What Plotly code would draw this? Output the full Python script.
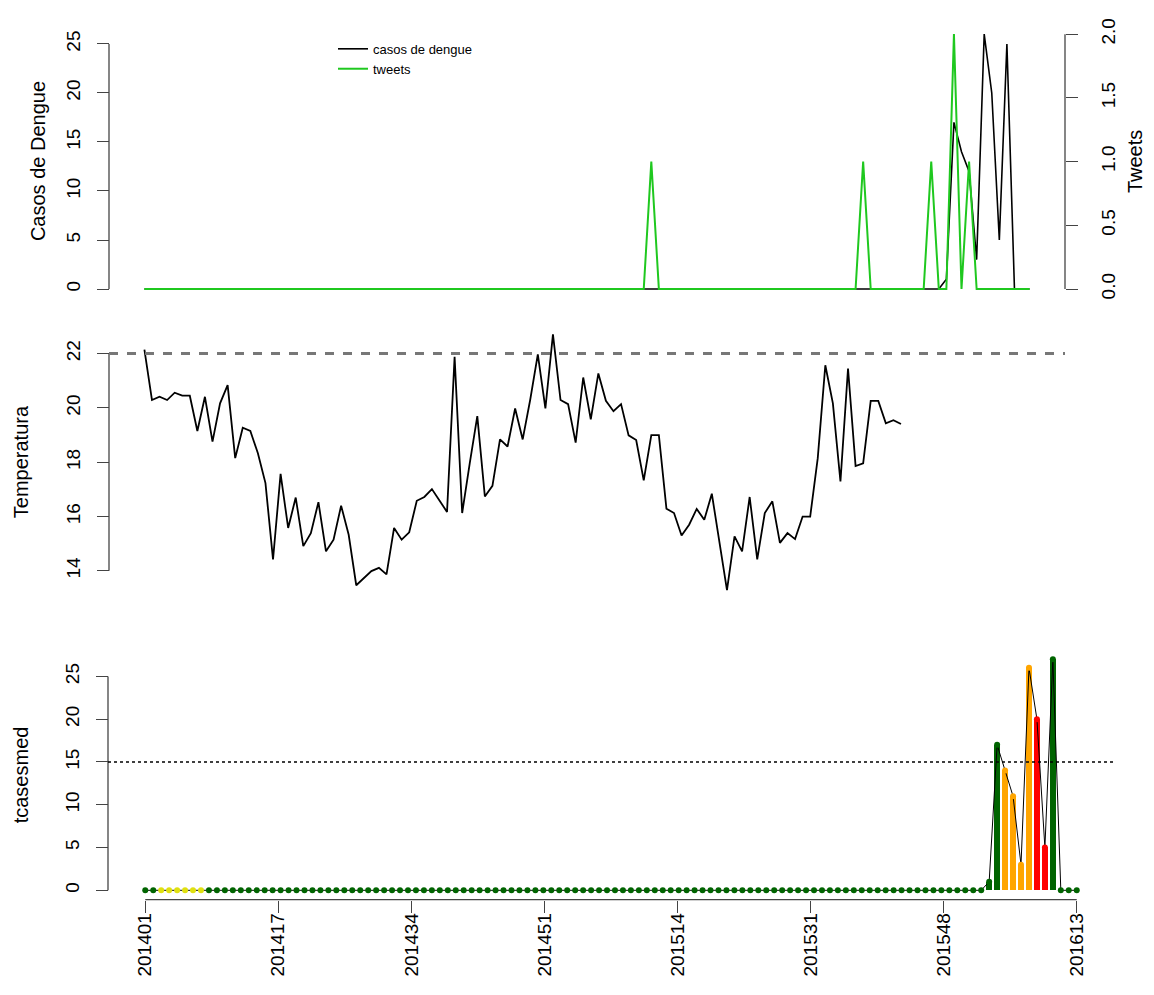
import numpy as np
import plotly.graph_objects as go

## weeks 201401 .. 201613 (2014 had 53 epi weeks)
weeks = ([f"2014{w:02d}" for w in range(1, 54)] +
         [f"2015{w:02d}" for w in range(1, 53)] +
         [f"2016{w:02d}" for w in range(1, 14)])
idx = list(range(1, len(weeks) + 1))

## dengue cases (top panel, black)
casos = [0] * 106 + [1, 17, 14, 12, 3, 26, 20, 5, 25, 0, 0, 0]

## tweets (top panel, green)
tweets = [0] * 118
for i, v in {68: 1, 96: 1, 105: 1, 108: 2, 110: 1}.items():
    tweets[i - 1] = v

## temperature (middle panel), only first 101 weeks available
temperatura = [22.15, 20.29, 20.41, 20.29, 20.56, 20.45, 20.45, 19.15, 20.41, 18.76,
               20.17, 20.84, 18.15, 19.27, 19.15, 18.33, 17.23, 14.42, 17.57, 15.58,
               16.70, 14.91, 15.39, 16.53, 14.72, 15.15, 16.40, 15.33, 13.47, 13.74,
               13.99, 14.11, 13.87, 15.58, 15.15, 15.42, 16.58, 16.72, 17.01, 16.59,
               16.17, 21.88, 16.13, 17.96, 19.70, 16.74, 17.13, 18.84, 18.58, 19.98,
               18.84, 20.31, 21.97, 19.98, 22.71, 20.29, 20.14, 18.72, 21.12, 19.58,
               21.27, 20.26, 19.88, 20.14, 18.99, 18.82, 17.33, 19.00, 19.00, 16.29,
               16.13, 15.30, 15.70, 16.28, 15.88, 16.84, 15.09, 13.29, 15.27, 14.72,
               16.72, 14.42, 16.13, 16.56, 15.03, 15.39, 15.17, 16.00, 16.00, 18.15,
               21.57, 20.17, 17.29, 21.45, 17.86, 17.96, 20.26, 20.26, 19.43, 19.55,
               19.41] + [None] * 17

## tcasesmed and alert level (bottom panel)
tcasesmed = [0] * 106 + [1, 17, 14, 11, 3, 26, 20, 5, 27, 0, 0, 0]
nivel = [1] * 118
for i in range(3, 9):
    nivel[i - 1] = 2
for i in range(109, 113):
    nivel[i - 1] = 3
for i in range(113, 115):
    nivel[i - 1] = 4
cores = {1: "#006400", 2: "#E0E010", 3: "#FFA500", 4: "#FF0000"}
cor_nivel = [cores[n] for n in nivel]

## tick positions like R: seq(1, 118, length=8)
tick_pos = np.linspace(1, len(weeks), 8)
tick_lab = [weeks[int(np.floor(p)) - 1] for p in tick_pos]

## page body has an 8px margin, so the figure is a bit smaller than the window
OFF = 8
W, H = 1154 - 2 * OFF, 995 - 2 * OFF
def px(x):
    return (x - OFF) / W
def py(y):
    return 1 - (y - OFF) / H

FONT = "Liberation Sans, Arial, sans-serif"
xr = [1 - 0.04 * 117, 118 + 0.04 * 117]

fig = go.Figure()

## top
fig.add_trace(go.Scatter(x=idx, y=casos, mode="lines", name="casos de dengue",
                         line=dict(color="black", width=1.6), xaxis="x", yaxis="y"))
fig.add_trace(go.Scatter(x=idx, y=tweets, mode="lines", name="tweets",
                         line=dict(color="#1FC81F", width=2), xaxis="x", yaxis="y2"))

## middle
fig.add_trace(go.Scatter(x=idx, y=temperatura, mode="lines", showlegend=False,
                         line=dict(color="black", width=1.8), xaxis="x2", yaxis="y3"))

## bottom
fig.add_trace(go.Bar(x=idx, y=tcasesmed, marker=dict(color=cor_nivel, line=dict(width=0)),
                     width=0.7, showlegend=False, xaxis="x3", yaxis="y4"))
fig.add_trace(go.Scatter(x=idx, y=tcasesmed, mode="lines", showlegend=False,
                         line=dict(color="black", width=1), xaxis="x3", yaxis="y4"))
fig.add_trace(go.Scatter(x=idx, y=tcasesmed, mode="markers", showlegend=False,
                         marker=dict(color=cor_nivel, size=6), xaxis="x3", yaxis="y4"))

yax = dict(showgrid=False, zeroline=False, showline=False, ticks="outside", ticklen=12,
           tickcolor="#444", tickangle=-90, tickfont=dict(size=19, color="black"))

fig.update_layout(
    width=W, height=H, margin=dict(l=0, r=0, t=0, b=0),
    paper_bgcolor="white", plot_bgcolor="white",
    font=dict(family=FONT, color="black"),
    showlegend=True,
    legend=dict(x=px(333), y=py(28), xanchor="left", yanchor="top",
                bgcolor="rgba(0,0,0,0)", font=dict(size=13), tracegroupgap=0),
    bargap=0,
    xaxis=dict(domain=[px(109), px(1065)], range=xr, visible=False, anchor="y"),
    yaxis=dict(domain=[py(295), py(18)], range=[-1.04, 27.04], anchor="free",
               position=px(109), tickvals=[0, 5, 10, 15, 20, 25],
               ticklabelstandoff=9, **yax),
    yaxis2=dict(overlaying="y", side="right", range=[-0.08, 2.08], anchor="free",
                position=px(1065), tickvals=[0, 0.5, 1, 1.5, 2], tickformat=".1f",
                ticklabelstandoff=14, **yax),
    xaxis2=dict(domain=[px(109), px(1065)], range=xr, visible=False, anchor="y3"),
    yaxis3=dict(domain=[py(598), py(320)], range=[12.913, 23.087], anchor="free",
                position=px(109), tickvals=[14, 16, 18, 20, 22],
                ticklabelstandoff=9, **yax),
    xaxis3=dict(domain=[px(108), px(1114)], range=xr, anchor="y4", showgrid=False,
                zeroline=False, showline=False, ticks="outside", ticklen=12, tickcolor="#444",
                tickvals=tick_pos, ticktext=tick_lab, tickangle=-90,
                tickfont=dict(size=19, color="black"), ticklabelstandoff=-7),
    yaxis4=dict(domain=[py(899), py(648)], range=[-1.08, 28.08], anchor="free",
                position=px(108), tickvals=[0, 5, 10, 15, 20, 25],
                ticklabelstandoff=9, **yax),
)

shapes = [
    ## axis lines, R style (span tick range only)
    dict(type="line", xref="paper", yref="y", x0=px(109), x1=px(109), y0=0, y1=25),
    dict(type="line", xref="paper", yref="y2", x0=px(1065), x1=px(1065), y0=0, y1=2),
    dict(type="line", xref="paper", yref="y3", x0=px(109), x1=px(109), y0=14, y1=22),
    dict(type="line", xref="paper", yref="y4", x0=px(108), x1=px(108), y0=0, y1=25),
    dict(type="line", xref="x3", yref="paper", x0=1, x1=118, y0=py(899), y1=py(899)),
]
for s in shapes:
    s["line"] = dict(color="#444", width=1.3)
## reference lines
shapes.append(dict(type="line", xref="x2 domain", yref="y3", x0=0, x1=1, y0=22, y1=22,
                   line=dict(color="#777", width=3, dash="dash")))
shapes.append(dict(type="line", xref="x3 domain", yref="y4", x0=0, x1=1, y0=15, y1=15,
                   line=dict(color="black", width=1.3, dash="dot")))
fig.update_layout(shapes=shapes)

## axis titles
titulos = [("Casos de Dengue", 38, 156), ("Tweets", 1135, 157),
           ("Temperatura", 21, 459), ("tcasesmed", 21, 774)]
for txt, x, y in titulos:
    fig.add_annotation(text=txt, x=px(x), y=py(y), xref="paper", yref="paper",
                       showarrow=False, textangle=-90, xanchor="center", yanchor="middle",
                       font=dict(size=20, color="black"))

fig.write_html("out.html")
